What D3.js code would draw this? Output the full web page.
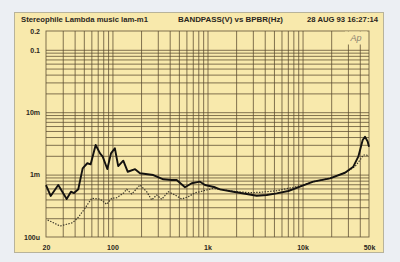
<!DOCTYPE html>
<html><head><meta charset="utf-8">
<script src="https://cdn.jsdelivr.net/npm/d3@7"></script>
<style>html,body{margin:0;padding:0;background:#eceff3;} svg{display:block}</style>
</head><body><svg id="c" width="400" height="262"></svg>
<script>
// ---- data ----
const titleLeft = "Stereophile  Lambda music  lam-m1";
const titleMid = "BANDPASS(V) vs  BPBR(Hz)";
const titleRight = "28 AUG 93 16:27:14";

const xTickValues = [20, 100, 1000, 10000, 50000];
const xTickLabels = ["20", "100", "1k", "10k", "50k"];
const yTickValues = [0.2, 0.1, 0.01, 0.001, 0.0001];
const yTickLabels = ["0.2", "0.1", "10m", "1m", "100u"];

const xGrid = [30,40,50,60,70,80,90,100,200,300,400,500,600,700,800,900,1000,
  2000,3000,4000,5000,6000,7000,8000,9000,10000,20000,30000,40000];
const yGrid = [0.0002,0.0003,0.0004,0.0005,0.0006,0.0007,0.0008,0.0009,0.001,
  0.002,0.003,0.004,0.005,0.006,0.007,0.008,0.009,0.01,
  0.02,0.03,0.04,0.05,0.06,0.07,0.08,0.09,0.1];

// solid trace (Hz, V)
const solidFreq = [20,22.4,26.9,33.0,36.6,39.4,43.7,48.6,54.4,59.0,66.6,74.0,79.0,88.3,96.6,106,115,130,145,173,195,269,343,420,474,580,682,834,941,1200,1354,1868,2584,3294,4196,5346,7080,9400,12970,19440,27960,34180,38580,42920,45380,48460,50000];
const solidVal = [0.00068,0.000454,0.00068,0.000406,0.000532,0.000507,0.000581,0.00126,0.00152,0.00146,0.00298,0.00219,0.00194,0.00123,0.00219,0.00264,0.00137,0.00167,0.00111,0.00122,0.00105,0.000985,0.00084,0.00082,0.00082,0.000626,0.000726,0.00077,0.00068,0.000626,0.000581,0.000532,0.000489,0.000459,0.000471,0.000501,0.000546,0.00064,0.00077,0.000872,0.00107,0.00134,0.00194,0.00358,0.00405,0.00337,0.0028];

// dotted trace (Hz, V)
const dottedFreq = [20.8,23.9,28.1,33.0,38.2,43.7,51.4,60.5,74.0,87.0,98.2,110.9,130,141.3,159.4,195,229.3,258.8,292.2,329.7,387,455,535.5,628.5,738.9,834,980.8,1151,1466,2028,2800,3565,4196,5346,7080,9400,12970,19440,27960,35620,40200,43560,47280,49100];
const dottedVal = [0.000187,0.0001695,0.00015,0.00016,0.0001695,0.000207,0.000288,0.000417,0.000406,0.000334,0.000417,0.000426,0.000501,0.000581,0.000489,0.00068,0.000532,0.000392,0.000471,0.000402,0.000532,0.000471,0.000406,0.000442,0.000513,0.000532,0.000567,0.000603,0.000567,0.000532,0.000513,0.00052,0.000532,0.000552,0.000603,0.000657,0.00077,0.000872,0.00107,0.00134,0.00171,0.00206,0.00206,0.00194];

// ---- drawing ----
const svg = d3.select("#c");
const L = 46, R = 369, T = 31, B = 237;
const x = d3.scaleLog().domain([20, 50000]).range([L, R]);
const y = d3.scaleLog().domain([0.0001, 0.2]).range([B, T]);

const paper = "#f8e9ac";
const gridCol = "#5b4b30";

svg.append("rect").attr("x", 14.5).attr("y", 12.5).attr("width", 369).attr("height", 240)
  .attr("fill", paper).attr("stroke", "#b8b39a").attr("stroke-width", 1);

// grid via axes
const gx = svg.append("g").attr("transform", `translate(0,${B})`)
  .call(d3.axisBottom(x).tickValues(xGrid).tickSize(-(B - T)).tickFormat(""));
const gy = svg.append("g").attr("transform", `translate(${L},0)`)
  .call(d3.axisLeft(y).tickValues(yGrid).tickSize(-(R - L)).tickFormat(""));
[gx, gy].forEach(g => {
  g.select(".domain").remove();
  g.selectAll("line").attr("stroke", gridCol).attr("stroke-width", 0.9).attr("stroke-opacity", 0.85);
});

// plot frame
svg.append("rect").attr("x", L).attr("y", T).attr("width", R - L).attr("height", B - T)
  .attr("fill", "none").attr("stroke", gridCol).attr("stroke-width", 0.9).attr("stroke-opacity", 0.85);

// Ap logo area
svg.append("rect").attr("x", 345).attr("y", 31.5).attr("width", 22).attr("height", 13).attr("fill", paper);
svg.append("text").attr("x", 356).attr("y", 41).attr("text-anchor", "middle")
  .attr("font-family", "Liberation Sans, Arial, sans-serif").attr("font-style", "italic")
  .attr("font-size", 9).attr("fill", "#8a8270").text("Ap");

// traces
const line = d3.line().x(d => x(d[0])).y(d => y(d[1]));
svg.append("path").datum(d3.zip(dottedFreq, dottedVal)).attr("d", line)
  .attr("fill", "none").attr("stroke", "#3a3528").attr("stroke-width", 1.2)
  .attr("stroke-dasharray", "1.4,1.4");
svg.append("path").datum(d3.zip(solidFreq, solidVal)).attr("d", line)
  .attr("fill", "none").attr("stroke", "#141210").attr("stroke-width", 1.9)
  .attr("stroke-linejoin", "round");

// axis labels
const font = "Liberation Sans, Arial, sans-serif";
const ax = svg.append("g").attr("transform", `translate(0,${B})`)
  .call(d3.axisBottom(x).tickValues(xTickValues).tickSize(0).tickPadding(8)
    .tickFormat((d, i) => xTickLabels[i]));
const ay = svg.append("g").attr("transform", `translate(${L},0)`)
  .call(d3.axisLeft(y).tickValues(yTickValues).tickSize(0).tickPadding(6)
    .tickFormat((d, i) => yTickLabels[i]));
[ax, ay].forEach(g => {
  g.select(".domain").remove();
  g.selectAll("text").attr("font-family", font).attr("font-weight", "bold")
    .attr("font-size", 7).attr("fill", "#2a2620");
});

// header
const hdr = [[titleLeft, 21, 127, "start"], [titleMid, 178, 105, "start"], [titleRight, 307, 71, "start"]];
hdr.forEach(h => {
  svg.append("text").attr("x", h[1]).attr("y", 22).attr("text-anchor", h[3])
    .attr("font-family", font).attr("font-weight", "bold").attr("font-size", 7.2)
    .attr("fill", "#2a2620").attr("textLength", h[2]).attr("lengthAdjust", "spacingAndGlyphs")
    .text(h[0]);
});
</script></body></html>
